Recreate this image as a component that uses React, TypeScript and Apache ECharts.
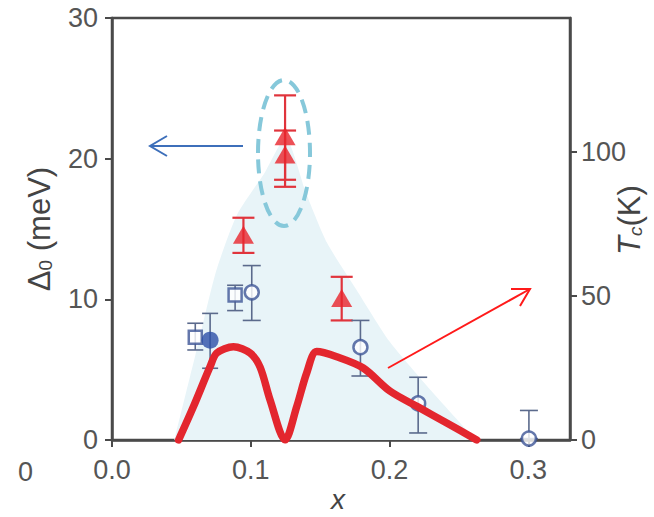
import React, { useEffect, useRef } from "react";
import * as echarts from "echarts";

// Tc curve (x, Tc in K) – right axis
const tcX = [0.048, 0.0587, 0.0707, 0.0755, 0.0875, 0.0995, 0.1067, 0.1139, 0.1247, 0.1331, 0.1403, 0.1475, 0.1619, 0.181, 0.2002, 0.2204, 0.2412, 0.2628];
const tcK = [0, 11.6, 25.5, 30.2, 32.4, 30.2, 25.3, 13.9, 0, 11.6, 23.3, 30.7, 28.9, 25, 17, 11.5, 5.9, 0];

// Shaded dome (x, meV)
const domeX = [0.045, 0.06, 0.075, 0.09, 0.11, 0.125, 0.14, 0.155, 0.176, 0.2, 0.23, 0.262];
const domeY = [0, 6, 12, 16, 19, 21.5, 17.5, 14, 10.7, 7, 3.5, 0];

// Red triangles (meV) with error range
const triX = [0.1247, 0.1247, 0.0947, 0.1655];
const triY = [21.6, 20.3, 14.6, 10.1];
const triLo = [18.5, 18.0, 13.3, 8.5];
const triHi = [24.5, 22.0, 15.8, 11.6];

// Blue filled circle
const fcX = [0.0707];
const fcY = [7.1];
const fcLo = [5.1];
const fcHi = [9.0];

// Blue open squares
const sqX = [0.06, 0.0887];
const sqY = [7.3, 10.3];
const sqLo = [6.4, 9.2];
const sqHi = [8.3, 11.0];

// Blue open circles
const ocX = [0.1007, 0.179, 0.2206, 0.3004];
const ocY = [10.5, 6.6, 2.6, 0.1];
const ocLo = [8.5, 4.55, 0.5, 0.1];
const ocHi = [12.4, 8.5, 4.46, 2.1];

const xTicks = [0, 0.1, 0.2, 0.3];
const leftTicks = [0, 10, 20, 30];
const rightTicks = [0, 50, 100];

const FONT = "'Liberation Sans', Arial, sans-serif";
const AXIS_COLOR = "#4a4a4a";
const LABEL_COLOR = "#555";
const TICK_FS = 27;

function errBars(xs: number[], ys: number[], lo: number[], hi: number[], color: string, capW: number, lw: number, z: number) {
  return {
    type: "custom",
    z,
    silent: true,
    data: xs.map((x, i) => [x, ys[i], lo[i], hi[i]]),
    encode: { x: 0, y: 1 },
    renderItem: (params: any, api: any) => {
      const x = api.value(0);
      const lo = api.value(2);
      const hi = api.value(3);
      const pHi = api.coord([x, hi]);
      const pLo = api.coord([x, lo]);
      const h = capW / 2;
      const style = { stroke: color, lineWidth: lw };
      return {
        type: "group",
        children: [
          { type: "line", shape: { x1: pLo[0], y1: pLo[1], x2: pHi[0], y2: pHi[1] }, style },
          { type: "line", shape: { x1: pHi[0] - h, y1: pHi[1], x2: pHi[0] + h, y2: pHi[1] }, style },
          { type: "line", shape: { x1: pLo[0] - h, y1: pLo[1], x2: pLo[0] + h, y2: pLo[1] }, style },
        ],
      };
    },
  };
}

export default function App() {
  const ref = useRef<HTMLDivElement>(null);
  useEffect(() => {
    if (!ref.current) return;
    const chart = echarts.init(ref.current, undefined, { renderer: "svg" });
    const option: any = {
      animation: false,
      backgroundColor: "#fff",
      grid: {
        left: 112, right: 84, top: 18, bottom: 77,
        containLabel: false, outerBoundsMode: "none",
        show: true, borderColor: AXIS_COLOR, borderWidth: 2.5,
      },
      xAxis: {
        type: "value",
        min: 0,
        max: 0.33,
        interval: 0.1,
        axisLine: { lineStyle: { color: AXIS_COLOR, width: 2.5 } },
        axisTick: { show: true, length: 7, inside: false, lineStyle: { color: AXIS_COLOR, width: 2 }, customValues: xTicks },
        axisLabel: { customValues: xTicks, formatter: (v: number) => v.toFixed(1), fontFamily: FONT, fontSize: TICK_FS, color: LABEL_COLOR, margin: 16 },
        splitLine: { show: false },
      },
      yAxis: [
        {
          type: "value",
          min: 0,
          max: 30,
          interval: 10,
          name: "{a|Δ}{s|0}{a| (meV)}",
          nameLocation: "middle",
          nameRotate: 90,
          nameGap: 57,
          nameMoveOverlap: false,
          nameTextStyle: {
            rich: {
              a: { fontFamily: FONT, fontSize: 31, color: "#444" },
              s: { fontFamily: FONT, fontSize: 19, color: "#444", verticalAlign: "bottom", padding: [12, 0, 0, 0] },
            },
          },
          axisLine: { show: true, lineStyle: { color: AXIS_COLOR, width: 2.5 } },
          axisTick: { show: true, length: 7, lineStyle: { color: AXIS_COLOR, width: 2 }, customValues: leftTicks },
          axisLabel: { customValues: leftTicks, fontFamily: FONT, fontSize: TICK_FS, color: LABEL_COLOR, margin: 14 },
          splitLine: { show: false },
        },
        {
          type: "value",
          min: 0,
          max: 146.5,
          position: "right",
          name: "{i|T}{s|c}{n|(K)}",
          nameLocation: "middle",
          nameRotate: 90,
          nameGap: 44,
          nameMoveOverlap: false,
          nameTextStyle: {
            padding: [0, 0, 0, 18],
            rich: {
              i: { fontFamily: FONT, fontSize: 31, fontStyle: "italic", color: "#444" },
              s: { fontFamily: FONT, fontSize: 19, fontStyle: "italic", color: "#444", verticalAlign: "bottom", padding: [12, 0, 0, 0] },
              n: { fontFamily: FONT, fontSize: 31, color: "#444" },
            },
          },
          axisLine: { show: true, lineStyle: { color: AXIS_COLOR, width: 2.5 } },
          axisTick: { show: true, length: 7, lineStyle: { color: AXIS_COLOR, width: 2 }, customValues: rightTicks },
          axisLabel: { customValues: rightTicks, fontFamily: FONT, fontSize: TICK_FS, color: LABEL_COLOR, margin: 11 },
          splitLine: { show: false },
        },
      ],
      series: [
        {
          type: "line",
          z: 1,
          data: domeX.map((x, i) => [x, domeY[i]]),
          symbol: "none",
          smooth: 0.2,
          lineStyle: { width: 0, opacity: 0 },
          areaStyle: { color: "#e8f4f8", opacity: 1 },
          silent: true,
        },
        errBars(triX, triY, triLo, triHi, "#e0343c", 22, 2.2, 3),
        errBars(sqX, sqY, sqLo, sqHi, "#5b6a8c", 16, 1.6, 3),
        errBars(fcX, fcY, fcLo, fcHi, "#5b6a8c", 16, 1.6, 3),
        errBars(ocX, ocY, ocLo, ocHi, "#5b6a8c", 18, 1.6, 3),
        {
          type: "scatter",
          z: 4,
          data: triX.map((x, i) => [x, triY[i]]),
          symbol: "triangle",
          symbolSize: [21, 18],
          itemStyle: { color: "#e8242c" },
        },
        {
          type: "scatter",
          z: 4,
          data: sqX.map((x, i) => [x, sqY[i]]),
          symbol: "rect",
          symbolSize: 13,
          itemStyle: { color: "#fff", borderColor: "#3d5596", borderWidth: 2.5 },
        },
        {
          type: "scatter",
          z: 4,
          data: fcX.map((x, i) => [x, fcY[i]]),
          symbol: "circle",
          symbolSize: 17,
          itemStyle: { color: "#2c4fa8" },
        },
        {
          type: "scatter",
          z: 4,
          data: ocX.map((x, i) => [x, ocY[i]]),
          symbol: "circle",
          symbolSize: 14,
          itemStyle: { color: "#fff", borderColor: "#3d5596", borderWidth: 2.5 },
        },
        {
          type: "line",
          z: 5,
          yAxisIndex: 1,
          data: tcX.map((x, i) => [x, tcK[i]]),
          symbol: "none",
          smooth: 0.3,
          lineStyle: { width: 7.5, color: "#e3262e", cap: "round", join: "round" },
          silent: true,
        },
      ],
      graphic: [
        { type: "text", left: 18, top: 458, style: { text: "0", fontFamily: FONT, fontSize: TICK_FS, fill: LABEL_COLOR } },
        {
          type: "text",
          x: 338,
          y: 499,
          style: { text: "x", fontFamily: FONT, fontSize: 28, fontStyle: "italic", fill: "#444", align: "center", verticalAlign: "middle" },
        },
        {
          type: "ellipse",
          z: 10,
          shape: { cx: 284, cy: 153, rx: 26, ry: 73 },
          style: { fill: "none", stroke: "#86c8da", lineWidth: 4, lineDash: [14, 8] },
        },
        { type: "line", z: 10, shape: { x1: 243, y1: 146, x2: 150, y2: 146 }, style: { stroke: "#3d6fba", lineWidth: 2 } },
        { type: "polyline", z: 10, shape: { points: [[167, 136], [150, 146], [167, 156]] }, style: { stroke: "#3d6fba", lineWidth: 2, fill: "none" } },
        { type: "line", z: 10, shape: { x1: 388, y1: 368, x2: 530, y2: 289 }, style: { stroke: "#ff1a1a", lineWidth: 2 } },
        { type: "polyline", z: 10, shape: { points: [[511, 289], [530, 289], [520, 306]] }, style: { stroke: "#ff1a1a", lineWidth: 2, fill: "none" } },
      ],
    };
    chart.setOption(option);
    return () => chart.dispose();
  }, []);
  return <div ref={ref} style={{ width: 654, height: 517, position: "absolute", left: 0, top: 0 }} />;
}
